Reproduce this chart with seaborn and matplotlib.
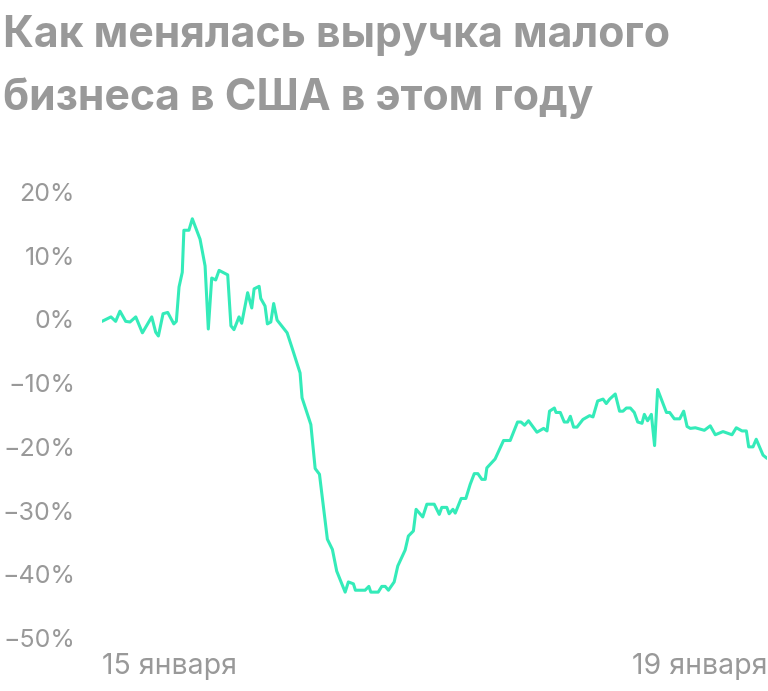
import matplotlib
matplotlib.use("Agg")
import pandas as pd
import seaborn as sns
import matplotlib.pyplot as plt

# Data: days since 15 Jan, revenue change in %
days = [0.0, 5.0, 7.6, 10.0, 13.2, 15.6, 18.8, 22.5, 27.7, 29.9, 31.4, 34.0, 36.6,
        40.0, 41.4, 42.9, 44.7, 45.6, 48.4, 50.3, 54.6, 57.4, 59.2, 61.1, 63.3,
        65.2, 70.0, 71.8, 73.5, 76.3, 77.8, 81.1, 83.4, 84.7, 87.5, 88.4, 90.8,
        92.1, 94.0, 95.6, 97.5, 103.1, 106.0, 110.3, 111.4, 116.3, 118.7, 121.1,
        125.5, 128.3, 130.7, 135.4, 137.2, 140.0, 141.1, 146.5, 148.6, 149.7,
        153.8, 155.8, 157.7, 159.5, 162.7, 164.7, 168.8, 170.6, 173.4, 174.9,
        178.6, 180.9, 185.0, 187.8, 189.2, 192.0, 193.3, 195.4, 196.7, 200.0,
        202.6, 205.0, 207.3, 209.3, 211.5, 213.4, 214.3, 218.9, 223.6, 227.3,
        231.4, 233.3, 235.3, 237.5, 242.2, 245.9, 247.8, 249.2, 251.9, 252.8,
        255.2, 257.4, 259.3, 260.8, 262.6, 264.5, 267.8, 271.5, 273.4, 276.0,
        279.0, 280.8, 282.7, 285.8, 288.2, 290.1, 292.0, 294.2, 296.4, 298.3,
        300.7, 302.0, 303.8, 305.9, 307.7, 309.4, 314.3, 316.1, 318.7, 321.7,
        323.9, 325.8, 327.6, 330.4, 335.4, 338.7, 341.5, 345.8, 350.8, 353.2,
        356.4, 358.8, 360.1, 362.5, 364.3, 368.1, 370.3]
change = [-0.3, 0.4, -0.3, 1.3, -0.3, -0.4, 0.4, -2.1, 0.4, -2.0, -2.6, 0.9, 1.1,
          -0.7, -0.3, 5.1, 7.4, 14.0, 14.0, 15.8, 12.6, 8.4, -1.5, 6.5, 6.2,
          7.7, 7.0, -1.0, -1.6, 0.4, -0.6, 4.2, 1.8, 4.8, 5.2, 3.3, 2.1,
          -0.7, -0.4, 2.5, -0.1, -2.1, -4.6, -8.4, -12.3, -16.5, -23.4, -24.3,
          -34.5, -36.1, -39.5, -42.8, -41.2, -41.5, -42.5, -42.5, -41.9, -42.8,
          -42.8, -41.9, -41.9, -42.5, -41.2, -38.7, -36.2, -34.0, -33.2, -29.8,
          -31.0, -29.0, -29.0, -30.6, -29.5, -29.5, -30.5, -29.8, -30.4, -28.1,
          -28.1, -25.9, -24.2, -24.2, -25.1, -25.1, -23.3, -21.9, -19.0, -19.0,
          -16.1, -16.1, -16.6, -15.9, -17.7, -17.1, -17.5, -14.4, -13.9, -14.6,
          -14.6, -16.1, -16.1, -15.2, -16.9, -16.9, -15.7, -15.1, -15.3, -12.8,
          -12.5, -13.2, -12.5, -11.7, -14.4, -14.4, -13.9, -13.9, -14.6, -16.1,
          -16.3, -14.9, -15.9, -14.9, -19.8, -11.0, -14.6, -14.6, -15.6, -15.6,
          -14.4, -16.8, -17.1, -17.0, -17.4, -16.7, -18.1, -17.6, -18.1, -17.0,
          -17.5, -17.5, -20.0, -20.0, -18.8, -21.3, -21.8]

y_ticks = [20, 10, 0, -10, -20, -30, -40, -50]
x_labels = ["15 января", "19 января"]
title_lines = ["Как менялась выручка малого", "бизнеса в США в этом году"]

df = pd.DataFrame({"day": days, "change": change})

sns.set_style("white")
plt.rcParams["font.family"] = ["Inter", "DejaVu Sans"]

gray = "#999999"
fig = plt.figure(figsize=(7.68, 6.91), dpi=100)
ax = fig.add_axes([0.1328, 0.0767, 0.8659, 0.6454])

sns.lineplot(data=df, x="day", y="change", ax=ax, color="#34ebb9", linewidth=2.2)

ax.set_ylim(-50, 20)
ax.set_xlim(days[0], days[-1])
ax.set_yticks(y_ticks)
ax.set_yticklabels([f"{v}%".replace("-", "\u2212") for v in y_ticks])
ax.set_xticks([days[0], days[-1]])
ax.set_xticklabels(x_labels)
xl = ax.get_xticklabels()
xl[0].set_ha("left")
xl[1].set_ha("right")
ax.tick_params(axis="y", length=0, pad=19.5, labelsize=18, labelcolor=gray)
ax.tick_params(axis="x", length=0, pad=11, labelsize=20.5, labelcolor=gray)
ax.set_xlabel("")
ax.set_ylabel("")
sns.despine(ax=ax, left=True, bottom=True)

for line, base_px in zip(title_lines, [47, 110]):
    fig.text(0.004, 1 - base_px / 691, line, ha="left", va="baseline",
             fontsize=30.8, fontweight="bold", color=gray)

fig.savefig("out.png", dpi=100)
